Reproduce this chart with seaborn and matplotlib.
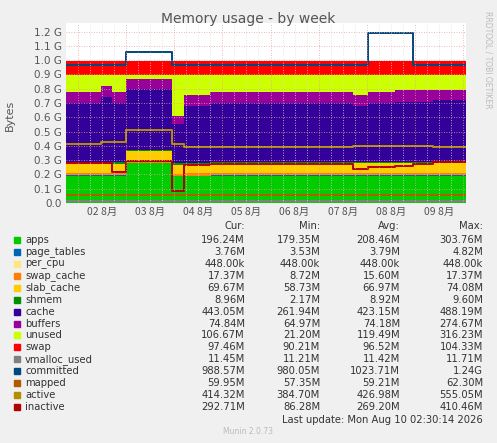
import numpy as np
import matplotlib
matplotlib.use("Agg")
import matplotlib.pyplot as plt
import seaborn as sns
import pandas as pd

sns.set_style("white")
plt.rcParams['font.family'] = ['DejaVu Sans', 'Noto Sans CJK SC']

# time edges in hours since Aug 1 18:00
T = [0, 17.5, 23, 30, 53, 59, 72, 143, 150.5, 164, 173, 183, 199.5]
# values per interval (MB)
apps        = [196, 196, 196, 285, 190, 192, 196, 196, 196, 196, 196, 196]
page_tables = [4, 4, 4, 4, 4, 4, 4, 4, 4, 4, 4, 4]
per_cpu     = [0.44] * 12
swap_cache  = [15, 15, 15, 9, 15, 16, 16, 16, 16, 16, 17, 17]
slab_cache  = [67, 67, 67, 72, 66, 66, 67, 67, 67, 67, 68, 69]
shmem       = [9, 9, 9, 9, 9, 9, 9, 9, 9, 9, 9, 9]
cache_top_g = [0.70, 0.74, 0.70, 0.80, 0.55, 0.68, 0.70, 0.68, 0.70, 0.71, 0.71, 0.72]
buffers     = [80, 80, 80, 70, 60, 80, 80, 80, 80, 80, 80, 75]
unused_top_g = 0.897
swap        = [100] * 12
vmalloc_used = [11.5] * 12
committed   = [988, 988, 988, 1085, 988, 988, 988, 988, 1220, 1220, 988, 988]
mapped      = [60, 60, 60, 60, 58, 60, 60, 60, 60, 60, 60, 60]
active      = [420, 440, 440, 525, 420, 400, 400, 405, 408, 408, 405, 400]
inactive    = [287, 287, 225, 300, 85, 270, 280, 245, 258, 265, 280, 292]

legend_rows = [
    ("apps", "196.24M", "179.35M", "208.46M", "303.76M", "#00CC00"),
    ("page_tables", "3.76M", "3.53M", "3.79M", "4.82M", "#0066B3"),
    ("per_cpu", "448.00k", "448.00k", "448.00k", "448.00k", "#FFE680"),
    ("swap_cache", "17.37M", "8.72M", "15.60M", "17.37M", "#FF8000"),
    ("slab_cache", "69.67M", "58.73M", "66.97M", "74.08M", "#FFCC00"),
    ("shmem", "8.96M", "2.17M", "8.92M", "9.60M", "#008F00"),
    ("cache", "443.05M", "261.94M", "423.15M", "488.19M", "#330099"),
    ("buffers", "74.84M", "64.97M", "74.18M", "274.67M", "#990099"),
    ("unused", "106.67M", "21.20M", "119.49M", "316.23M", "#CCFF00"),
    ("swap", "97.46M", "90.21M", "96.52M", "104.33M", "#FF0000"),
    ("vmalloc_used", "11.45M", "11.21M", "11.42M", "11.71M", "#808080"),
    ("committed", "988.57M", "980.05M", "1023.71M", "1.24G", "#00487D"),
    ("mapped", "59.95M", "57.35M", "59.21M", "62.30M", "#B35A00"),
    ("active", "414.32M", "384.70M", "426.98M", "555.05M", "#B38F00"),
    ("inactive", "292.71M", "86.28M", "269.20M", "410.46M", "#B30000"),
]
colors = {r[0]: r[5] for r in legend_rows}

W, H = 497, 443
fig = plt.figure(figsize=(W/100, H/100), dpi=100, facecolor="#f0f0f0")
ax = fig.add_axes([66/W, 1-203/H, 400/W, 180/H])
ax.set_facecolor("white")

def ext(v):
    return list(v) + [v[-1]]

x = np.array(T)
base = np.zeros(len(T))
cache = [c*1024 - (a+p+q+s+sl+sh) for c, a, p, q, s, sl, sh in
         zip(cache_top_g, apps, page_tables, per_cpu, swap_cache, slab_cache, shmem)]
below_unused = [c*1024 + b for c, b in zip(cache_top_g, buffers)]
unused = [unused_top_g*1024 - v for v in below_unused]
stack = [("apps", apps), ("page_tables", page_tables), ("per_cpu", per_cpu),
         ("swap_cache", swap_cache), ("slab_cache", slab_cache), ("shmem", shmem),
         ("cache", cache), ("buffers", buffers), ("unused", unused), ("swap", swap)]
for name, v in stack:
    top = base + np.array(ext(v))
    ax.fill_between(x, base, top, step="post", color=colors[name], lw=0)
    base = top

rows = []
for name, v in [("vmalloc_used", vmalloc_used), ("committed", committed), ("mapped", mapped),
                ("active", active), ("inactive", inactive)]:
    for t, val in zip(T, ext(v)):
        rows.append({"t": t, "v": val, "s": name})
df = pd.DataFrame(rows)
for name in ["vmalloc_used", "committed", "mapped", "active", "inactive"]:
    sns.lineplot(data=df[df.s == name], x="t", y="v", ax=ax, color=colors[name],
                 lw=1.4, drawstyle="steps-post", legend=False)
ax.set_xlabel("")
ax.set_ylabel("")

ymax = 1.26 * 1024
ax.set_xlim(0, 199.5)
ax.set_ylim(0, ymax)
yt = [k*102.4 for k in range(13)]
ax.set_yticks(yt)
ax.set_yticklabels(["0.0"] + [f"{k/10:.1f} G" for k in range(1, 13)], fontsize=7.5, color="#555555")
ax.set_xticks([18 + 24*k for k in range(8)])
ax.set_xticklabels([f"0{k+2} 8月" for k in range(8)], fontsize=7.5, color="#555555",
                   family=['Noto Sans CJK SC', 'DejaVu Sans'])
ax.tick_params(length=0, pad=3)
for k in range(-1, 9):
    for h in range(0, 24, 6):
        tx = 6 + 24*k + h
        if 0 < tx < 199.5:
            ax.axvline(tx, color="#e8a0a0" if h == 0 else "#dddddd", lw=0.6, ls=(0, (1, 2)), zorder=3)
for y in yt[1:]:
    ax.axhline(y, color="#e8a0a0", lw=0.6, ls=(0, (1, 2)), zorder=3)
for s in ax.spines.values():
    s.set_visible(False)
ax.axhline(0, color="#aaaaaa", lw=0.8, zorder=4)

fig.text(248/W, 1-19/H, "Memory usage - by week", ha="center", va="center", fontsize=10, color="#555555")
fig.text(10/W, 1-115/H, "Bytes", rotation=90, ha="center", va="center", fontsize=8, color="#555555")
fig.text(488/W, 1-60/H, "RRDTOOL / TOBI OETIKER", rotation=270, ha="center", va="center",
         fontsize=5.5, color="#bbbbbb")

fs = 7.2
y0 = 240
hy = 1 - 226/H
for xx, lab in zip([245, 320, 400, 483], ["Cur:", "Min:", "Avg:", "Max:"]):
    fig.text(xx/W, hy, lab, ha="right", va="center", fontsize=fs, color="#333333")
for i, (name, cur, mn, av, mx, col) in enumerate(legend_rows):
    yy = 1 - (y0 + i*11.93)/H
    fig.patches.append(matplotlib.patches.Rectangle((14/W, yy-3/H), 6/W, 6/H,
                       transform=fig.transFigure, color=col))
    fig.text(25/W, yy, name, ha="left", va="center", fontsize=fs, color="#333333")
    for xx, val in zip([245, 320, 400, 483], [cur, mn, av, mx]):
        fig.text(xx/W, yy, val, ha="right", va="center", fontsize=fs, color="#333333")
fig.text(483/W, 1-420/H, "Last update: Mon Aug 10 02:30:14 2026", ha="right", va="center",
         fontsize=fs, color="#333333")
fig.text(248/W, 1-432/H, "Munin 2.0.73", ha="center", va="center", fontsize=5.5, color="#bbbbbb")

fig.savefig("out.png", dpi=100, facecolor=fig.get_facecolor())
